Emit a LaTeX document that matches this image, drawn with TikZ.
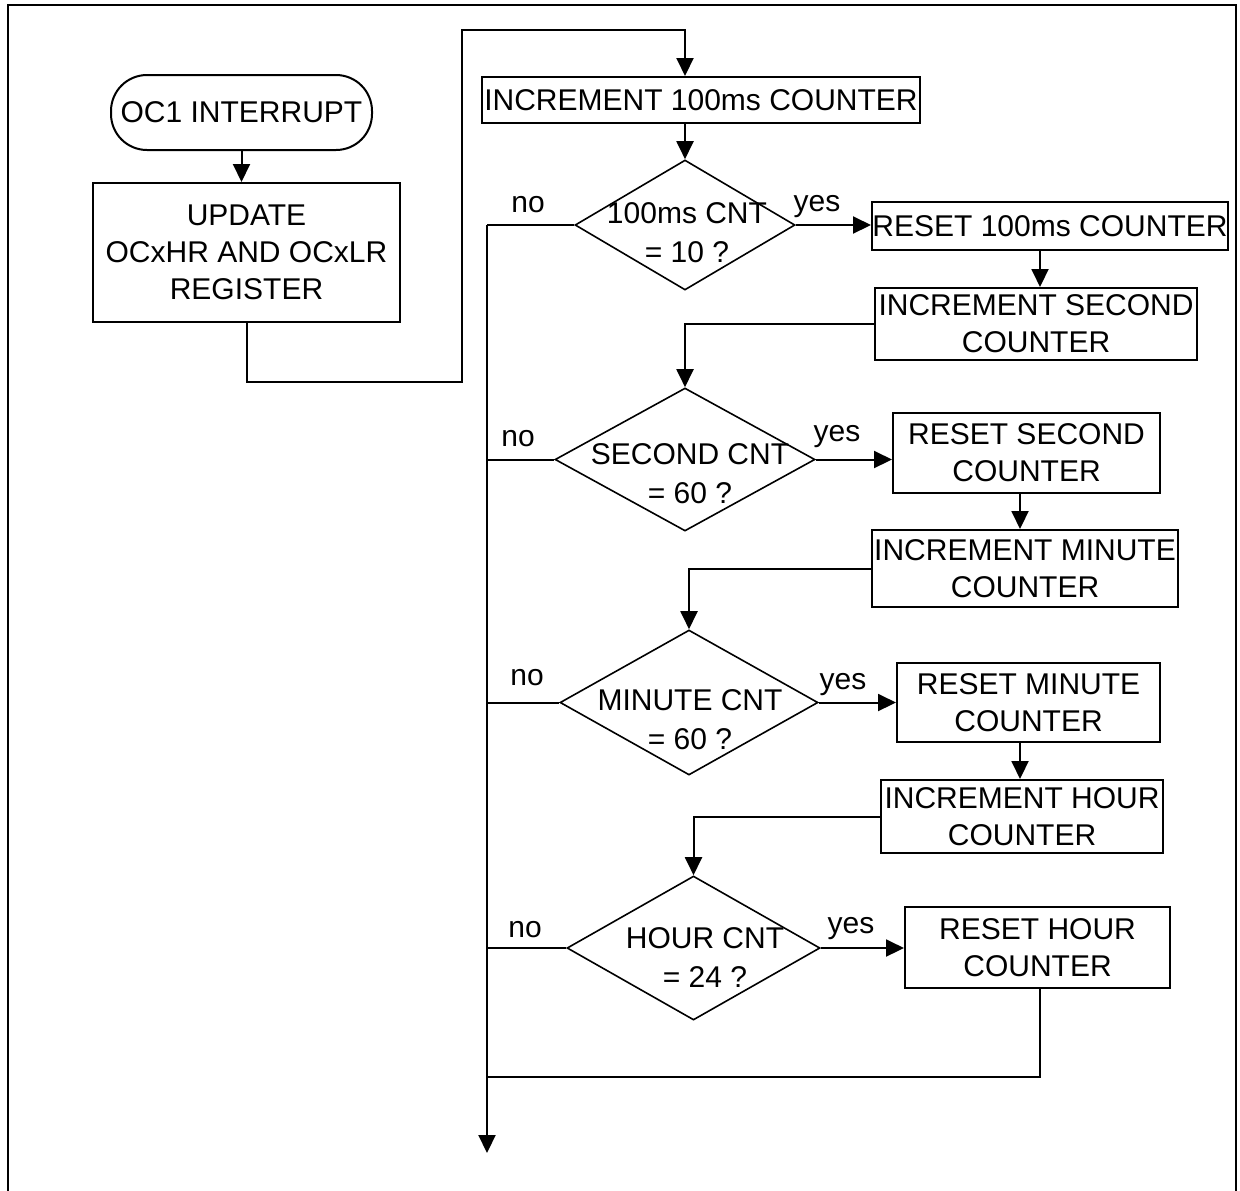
\documentclass[tikz,border=0pt]{standalone}
\usepackage{fontspec}
\setmainfont{Liberation Sans}
\usetikzlibrary{arrows.meta,shapes.geometric}
\begin{document}
\begin{tikzpicture}[x=0.5pt,y=-0.5pt,
  every node/.style={font=\fontsize{15}{18.5}\selectfont},
  box/.style={draw,line width=1pt,rectangle,inner sep=0pt,align=center},
  dec/.style={draw,line width=0.8pt,diamond,inner sep=0pt},
  dtext/.style={align=center,inner sep=0pt,font=\fontsize{15}{19.5}\selectfont},
  lbl/.style={anchor=base,inner sep=0pt},
  conn/.style={line width=1pt},
  arr/.style={line width=1pt,-{Triangle[length=9pt,width=8.5pt]}}]
\useasboundingbox (0,0) rectangle (1240,1190);
% frame
\draw[line width=1pt] (8,1200) -- (8,5) -- (1236,5) -- (1236,1200);

% nodes
\node[box,rounded corners=18pt,minimum width=130.5pt,minimum height=37.5pt] (start) at (241.5,112.5) {OC1 INTERRUPT};
\node[box,minimum width=153.5pt,minimum height=69.5pt] (upd) at (246.5,252.5) {UPDATE\\OCxHR AND OCxLR\\REGISTER};

\node[box,minimum width=219pt,minimum height=23pt] (inc100) at (701,100) {INCREMENT 100ms COUNTER};
\node[dec,minimum width=110pt,minimum height=65pt] (d1) at (685,225) {};
\node[dtext] (d1t) at (687,233) {100ms CNT\\= 10 ?};
\node[box,minimum width=178pt,minimum height=24pt] (rst100) at (1050,226) {RESET 100ms COUNTER};
\node[box,minimum width=161pt,minimum height=36pt] (incsec) at (1036,324) {INCREMENT SECOND\\COUNTER};

\node[dec,minimum width=130pt,minimum height=71.5pt] (d2) at (685,459.5) {};
\node[dtext] (d2t) at (690,474) {SECOND CNT\\= 60 ?};
\node[box,minimum width=133.5pt,minimum height=40pt] (rstsec) at (1026.5,453) {RESET SECOND\\COUNTER};
\node[box,minimum width=153pt,minimum height=38.5pt] (incmin) at (1025,568.5) {INCREMENT MINUTE\\COUNTER};

\node[dec,minimum width=129pt,minimum height=72.5pt] (d3) at (689,702.5) {};
\node[dtext] (d3t) at (690,720) {MINUTE CNT\\= 60 ?};
\node[box,minimum width=131.5pt,minimum height=39.5pt] (rstmin) at (1028.5,702.5) {RESET MINUTE\\COUNTER};
\node[box,minimum width=141pt,minimum height=36.5pt] (inchr) at (1022,816.5) {INCREMENT HOUR\\COUNTER};

\node[dec,minimum width=126.5pt,minimum height=72pt] (d4) at (693.5,948) {};
\node[dtext] (d4t) at (705,958) {HOUR CNT\\= 24 ?};
\node[box,minimum width=132.5pt,minimum height=40.5pt] (rsthr) at (1037.5,947.5) {RESET HOUR\\COUNTER};

% labels
\node[lbl] (no1) at (528,212) {no};
\node[lbl] (yes1) at (817,211) {yes};
\node[lbl] (no2) at (518,446) {no};
\node[lbl] (yes2) at (837,441) {yes};
\node[lbl] (no3) at (527,685) {no};
\node[lbl] (yes3) at (843,689) {yes};
\node[lbl] (no4) at (525,937) {no};
\node[lbl] (yes4) at (851,933) {yes};

% coordinates
\coordinate (l1) at (462,382);
\coordinate (l2) at (462,30);
\coordinate (topin) at (inc100.north -| d1.north);
\coordinate (bx) at (487,0);
\coordinate (join) at (487,1077);
\coordinate (exit) at (487,1153);
\coordinate (v1) at (1040,0);
\coordinate (v2) at (1020,0);

% connectors
\draw[arr] (start) -- (start.south |- upd.north);
\draw[arr] (upd.south) |- (l1) -- (l2) -| (topin);
\draw[arr] (d1.north |- inc100.south) -- (d1.north);
\draw[arr] (d1.east) -- (d1.east -| rst100.west);
\draw[arr] (rst100.south -| v1) -- (incsec.north -| v1);
\draw[arr] (incsec.west) -| (d2.north);
\draw[arr] (d2.east) -- (d2.east -| rstsec.west);
\draw[arr] (rstsec.south -| v2) -- (incmin.north -| v2);
\draw[arr] (incmin.west) -| (d3.north);
\draw[arr] (d3.east) -- (d3.east -| rstmin.west);
\draw[arr] (rstmin.south -| v2) -- (inchr.north -| v2);
\draw[arr] (inchr.west) -| (d4.north);
\draw[arr] (d4.east) -- (d4.east -| rsthr.west);
\draw[conn] (rsthr.south -| v1) |- (join);

% no branches / bus
\draw[conn] (d1.west) -- (d1.west -| bx);
\draw[conn] (d2.west) -- (d2.west -| bx);
\draw[conn] (d3.west) -- (d3.west -| bx);
\draw[conn] (d4.west) -- (d4.west -| bx);
\draw[arr] (d1.west -| bx) -- (exit);
\end{tikzpicture}
\end{document}
